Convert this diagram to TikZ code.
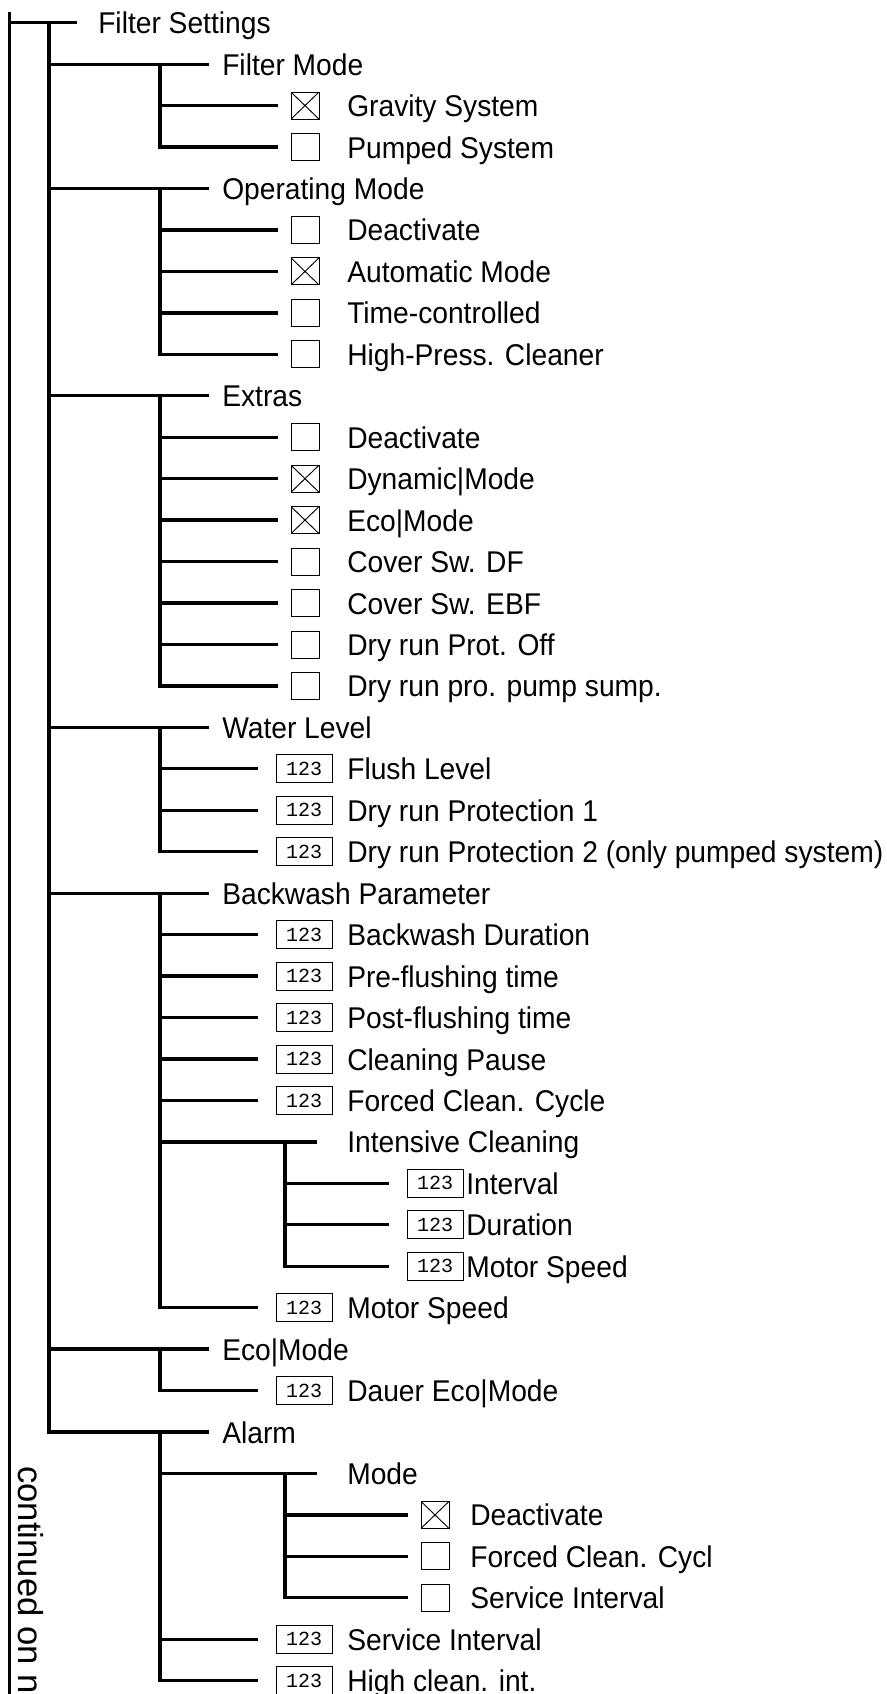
\documentclass[tikz,border=0pt]{standalone}
\usepackage{xcolor}
\usepackage{fontspec}
\setmainfont{Liberation Sans}[FakeStretch=0.94]
\newfontfamily\contfont{Liberation Sans}
\setmonofont{Liberation Mono}
\usepackage{tikz}

\tikzset{
  branch/.style={line width=2.5pt},
  item/.style={anchor=base west, inner sep=0pt, font=\fontsize{22.5}{27}\selectfont},
  chkbox/.style={draw, line width=0.7pt, minimum width=21pt, minimum height=20.25pt, inner sep=0pt, outer xsep=9.75pt},
  chkon/.style={chkbox, path picture={\draw[line width=0.7pt] (path picture bounding box.north west) -- (path picture bounding box.south east) (path picture bounding box.north east) -- (path picture bounding box.south west);}},
  numbox/.style={draw, line width=0.7pt, minimum width=42pt, minimum height=21pt, inner sep=0pt, outer xsep=13.5pt, font=\ttfamily\fontsize{15}{15}\selectfont},
}

\begin{document}
\begin{tikzpicture}[x=0.75pt,y=0.75pt,yscale=-1,xscale=1]
\useasboundingbox (0,0) rectangle (886,1694);

% outer bar and top entry
\coordinate (outer) at (9.5,12);
\coordinate (outerEnd) at (9.5,1694);
\draw[branch] (outer) -- (outerEnd);
\coordinate (fsT) at (77,22.7);
\draw[branch] (outer |- fsT) -- (fsT);
\node[item] (fs) at (98,33.7) {Filter Settings};
\coordinate (rootS) at (49,22.7);

% Filter Mode
\coordinate (fmT) at (209,64.2);
\draw[branch] (rootS) |- (fmT);
\node[item] (fm) at (222,75.2) {Filter Mode};
\coordinate (fmS) at (160,64.2);
\node[chkon] (gravity) at (305,105.6) {};
\node[item] (gravityT) at (347,116.6) {Gravity System};
\node[chkbox] (pumped) at (305,147.1) {};
\node[item] (pumpedT) at (347,158.1) {Pumped System};
\draw[branch] (fmS) |- (gravity);
\draw[branch] (fmS) |- (pumped);

% Operating Mode
\coordinate (omT) at (209,188.5);
\draw[branch] (rootS) |- (omT);
\node[item] (om) at (222,199.5) {Operating Mode};
\coordinate (omS) at (160,188.5);
\node[chkbox] (omOff) at (305,230.0) {};
\node[item] (omOffT) at (347,241.0) {Deactivate};
\node[chkon] (omAuto) at (305,271.4) {};
\node[item] (omAutoT) at (347,282.4) {Automatic Mode};
\node[chkbox] (omTime) at (305,312.9) {};
\node[item] (omTimeT) at (347,323.9) {Time-controlled};
\node[chkbox] (omHigh) at (305,354.3) {};
\node[item] (omHighT) at (347,365.3) {High-Press. Cleaner};
\draw[branch] (omS) |- (omOff);
\draw[branch] (omS) |- (omAuto);
\draw[branch] (omS) |- (omTime);
\draw[branch] (omS) |- (omHigh);

% Extras
\coordinate (exT) at (209,395.8);
\draw[branch] (rootS) |- (exT);
\node[item] (ex) at (222,406.8) {Extras};
\coordinate (exS) at (160,395.8);
\node[chkbox] (exOff) at (305,437.2) {};
\node[item] (exOffT) at (347,448.2) {Deactivate};
\node[chkon] (exDyn) at (305,478.7) {};
\node[item] (exDynT) at (347,489.7) {Dynamic|Mode};
\node[chkon] (exEco) at (305,520.1) {};
\node[item] (exEcoT) at (347,531.1) {Eco|Mode};
\node[chkbox] (exDF) at (305,561.6) {};
\node[item] (exDFT) at (347,572.6) {Cover Sw. DF};
\node[chkbox] (exEBF) at (305,603.0) {};
\node[item] (exEBFT) at (347,614.0) {Cover Sw. EBF};
\node[chkbox] (exProt) at (305,644.5) {};
\node[item] (exProtT) at (347,655.5) {Dry run Prot. Off};
\node[chkbox] (exSump) at (305,685.9) {};
\node[item] (exSumpT) at (347,696.9) {Dry run pro. pump sump.};
\draw[branch] (exS) |- (exOff);
\draw[branch] (exS) |- (exDyn);
\draw[branch] (exS) |- (exEco);
\draw[branch] (exS) |- (exDF);
\draw[branch] (exS) |- (exEBF);
\draw[branch] (exS) |- (exProt);
\draw[branch] (exS) |- (exSump);

% Water Level
\coordinate (wlT) at (209,727.4);
\draw[branch] (rootS) |- (wlT);
\node[item] (wl) at (222,738.4) {Water Level};
\coordinate (wlS) at (160,727.4);
\node[numbox] (wlFlush) at (304,768.8) {123};
\node[item] (wlFlushT) at (347,779.8) {Flush Level};
\node[numbox] (wlDry1) at (304,810.3) {123};
\node[item] (wlDry1T) at (347,821.3) {Dry run Protection 1};
\node[numbox] (wlDry2) at (304,851.7) {123};
\node[item] (wlDry2T) at (347,862.7) {Dry run Protection 2 (only pumped system)};
\draw[branch] (wlS) |- (wlFlush);
\draw[branch] (wlS) |- (wlDry1);
\draw[branch] (wlS) |- (wlDry2);

% Backwash Parameter
\coordinate (bwT) at (209,893.2);
\draw[branch] (rootS) |- (bwT);
\node[item] (bw) at (222,904.2) {Backwash Parameter};
\coordinate (bwS) at (160,893.2);
\node[numbox] (bwDur) at (304,934.6) {123};
\node[item] (bwDurT) at (347,945.6) {Backwash Duration};
\node[numbox] (bwPre) at (304,976.1) {123};
\node[item] (bwPreT) at (347,987.1) {Pre-flushing time};
\node[numbox] (bwPost) at (304,1017.5) {123};
\node[item] (bwPostT) at (347,1028.5) {Post-flushing time};
\node[numbox] (bwPause) at (304,1059.0) {123};
\node[item] (bwPauseT) at (347,1070.0) {Cleaning Pause};
\node[numbox] (bwForced) at (304,1100.4) {123};
\node[item] (bwForcedT) at (347,1111.4) {Forced Clean. Cycle};
\coordinate (icT) at (317,1141.9);
\node[item] (ic) at (347,1152.9) {Intensive Cleaning};
\node[numbox] (bwSpeed) at (304,1307.7) {123};
\node[item] (bwSpeedT) at (347,1318.7) {Motor Speed};
\draw[branch] (bwS) |- (bwDur);
\draw[branch] (bwS) |- (bwPre);
\draw[branch] (bwS) |- (bwPost);
\draw[branch] (bwS) |- (bwPause);
\draw[branch] (bwS) |- (bwForced);
\draw[branch] (bwS) |- (icT);
\draw[branch] (bwS) |- (bwSpeed);

% Intensive Cleaning
\coordinate (icS) at (285,1141.9);
\node[numbox] (icInt) at (435,1183.3) {123};
\node[item] (icIntT) at (466,1194.3) {Interval};
\node[numbox] (icDur) at (435,1224.8) {123};
\node[item] (icDurT) at (466,1235.8) {Duration};
\node[numbox] (icSpeed) at (435,1266.2) {123};
\node[item] (icSpeedT) at (466,1277.2) {Motor Speed};
\draw[branch] (icS) |- (icInt);
\draw[branch] (icS) |- (icDur);
\draw[branch] (icS) |- (icSpeed);

% Eco|Mode
\coordinate (ecoT) at (209,1349.1);
\draw[branch] (rootS) |- (ecoT);
\node[item] (eco) at (222,1360.1) {Eco|Mode};
\coordinate (ecoS) at (160,1349.1);
\node[numbox] (ecoDur) at (304,1390.6) {123};
\node[item] (ecoDurT) at (347,1401.6) {Dauer Eco|Mode};
\draw[branch] (ecoS) |- (ecoDur);

% Alarm
\coordinate (alT) at (209,1432.0);
\draw[branch] (rootS) |- (alT);
\node[item] (al) at (222,1443.0) {Alarm};
\coordinate (alS) at (160,1432.0);
\coordinate (moT) at (317,1473.5);
\node[item] (mo) at (347,1484.5) {Mode};
\node[numbox] (alServ) at (304,1639.3) {123};
\node[item] (alServT) at (347,1650.3) {Service Interval};
\node[numbox] (alHigh) at (304,1680.7) {123};
\node[item] (alHighT) at (347,1691.7) {High clean. int.};
\draw[branch] (alS) |- (moT);
\draw[branch] (alS) |- (alServ);
\draw[branch] (alS) |- (alHigh);

% Alarm Mode
\coordinate (moS) at (285,1473.5);
\node[chkon] (moOff) at (435,1514.9) {};
\node[item] (moOffT) at (470,1525.9) {Deactivate};
\node[chkbox] (moForced) at (435,1556.4) {};
\node[item] (moForcedT) at (470,1567.4) {Forced Clean. Cycl};
\node[chkbox] (moServ) at (435,1597.8) {};
\node[item] (moServT) at (470,1608.8) {Service Interval};
\draw[branch] (moS) |- (moOff);
\draw[branch] (moS) |- (moForced);
\draw[branch] (moS) |- (moServ);

% side note
\node[rotate=-90, anchor=base west, inner sep=0pt, font=\contfont\fontsize{26}{26}\selectfont] (cont) at (18,1466) {continued on n};

\end{tikzpicture}
\end{document}
